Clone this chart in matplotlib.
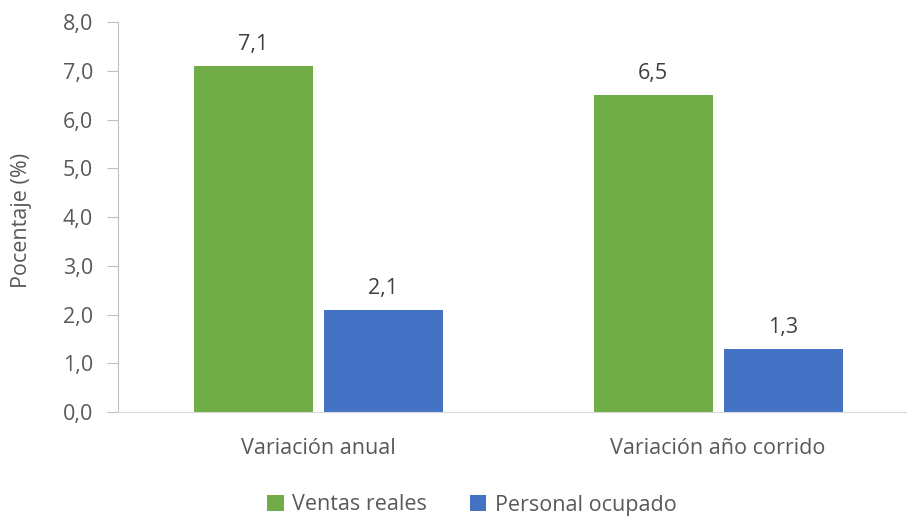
import matplotlib
matplotlib.use("Agg")
import matplotlib.pyplot as plt
import numpy as np

categorias = ["Variación anual", "Variación año corrido"]
ventas_reales = [7.1, 6.5]
personal_ocupado = [2.1, 1.3]
series = ["Ventas reales", "Personal ocupado"]

plt.rcParams['font.family'] = ['Open Sans', 'DejaVu Sans']
gris = "#595959"
fs = 15.5

fig = plt.figure(figsize=(9.07, 5.17), dpi=100)
# el eje va hasta el borde derecho, como en el original
ax = fig.add_axes([118 / 907, 105 / 517, 800 / 907, 390 / 517])

x = np.arange(len(categorias))
ancho = 0.2975
desp = 0.1625
b1 = ax.bar(x - desp, ventas_reales, ancho, color="#70AD47", label=series[0])
b2 = ax.bar(x + desp, personal_ocupado, ancho, color="#4472C4", label=series[1])

# etiquetas de datos con coma decimal
for barras in (b1, b2):
    for r in barras:
        v = r.get_height()
        ax.annotate(f"{v:.1f}".replace(".", ","),
                    xy=(r.get_x() + r.get_width() / 2, v),
                    xytext=(0, 8), textcoords="offset points",
                    ha="center", va="bottom", fontsize=fs, color="#404040")

ax.set_xlim(-0.5, 1.5)
ax.set_ylim(0, 8)
ax.set_yticks(np.arange(0, 8.01, 1))
ax.set_yticklabels([f"{t:.1f}".replace(".", ",") for t in np.arange(0, 8.01, 1)])
ax.set_xticks(x)
ax.set_xticklabels(categorias)
ax.tick_params(axis="y", length=8, color="#BFBFBF", labelsize=fs, labelcolor=gris, pad=10)
ax.tick_params(axis="x", length=0, labelsize=fs, labelcolor=gris, pad=19)

for s in ("top", "right"):
    ax.spines[s].set_visible(False)
ax.spines["left"].set_color("#BFBFBF")
ax.spines["bottom"].set_color("#D9D9D9")

ax.set_ylabel("Pocentaje (%)", fontsize=fs, color=gris)
ax.yaxis.set_label_coords(22 / 907, 1 - 220 / 517, transform=fig.transFigure)
ax.yaxis.label.set_verticalalignment("center")

ax.legend(loc="center", bbox_to_anchor=(472 / 907, 12 / 517), bbox_transform=fig.transFigure,
          ncol=2, frameon=False, fontsize=fs, labelcolor=gris,
          handlelength=0.75, handleheight=0.75, handletextpad=0.4, columnspacing=2.0)

fig.savefig("out.png", dpi=100)
